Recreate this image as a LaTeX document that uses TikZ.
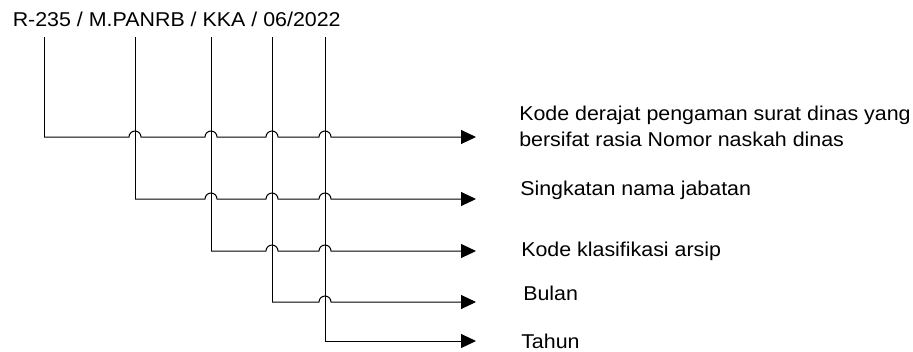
\documentclass[tikz,border=0pt]{standalone}
\usepackage{fontspec}
\setmainfont{Liberation Sans}[FakeStretch=1.07]
\usepackage{tikz}
\usetikzlibrary{arrows.meta, positioning}

\tikzset{
  lbl/.style={anchor=base west, inner sep=0.75pt, font=\fontsize{15}{19.5}\selectfont},
  wire/.style={line width=0.75, color=black},
  tip/.style={wire, -{Triangle[length=11.25pt,width=10.5pt]}}
}

\begin{document}
\begin{tikzpicture}[x=0.75pt,y=0.75pt,yscale=-1,xscale=1]
\useasboundingbox (0,0) rectangle (913,351);

% Text Node
\node (nomor) [lbl] at (11.5,26.5) {R-235 / M.PANRB / KKA / 06/2022};

%Coordinates
\coordinate (t1) at (44,37);
\coordinate (t2) at (135,37);
\coordinate (t3) at (211,37);
\coordinate (t4) at (272,37);
\coordinate (t5) at (325,37);
\coordinate (c1) at (44,137);
\coordinate (c2) at (135,199);
\coordinate (c3) at (211,251);
\coordinate (c4) at (272,302);
\coordinate (c5) at (325,341);
\coordinate (e1) at (476,137);
\coordinate (e2) at (476,199);
\coordinate (e3) at (476,251);
\coordinate (e4) at (476,302);
\coordinate (e5) at (476,341);

%Straight Lines
\draw [wire] (t1) -- (c1);
\draw [wire] (t2) -- (c2);
\draw [wire] (t3) -- (c3);
\draw [wire] (t4) -- (c4);
\draw [wire] (t5) -- (c5);

%Hop Lines
\draw [tip] (c1) -- (129,137) arc [start angle=180, end angle=360, radius=6]
  -- (205,137) arc [start angle=180, end angle=360, radius=6]
  -- (266,137) arc [start angle=180, end angle=360, radius=6]
  -- (319,137) arc [start angle=180, end angle=360, radius=6] -- (e1);
\draw [tip] (c2) -- (205,199) arc [start angle=180, end angle=360, radius=6]
  -- (266,199) arc [start angle=180, end angle=360, radius=6]
  -- (319,199) arc [start angle=180, end angle=360, radius=6] -- (e2);
\draw [tip] (c3) -- (266,251) arc [start angle=180, end angle=360, radius=6]
  -- (319,251) arc [start angle=180, end angle=360, radius=6] -- (e3);
\draw [tip] (c4) -- (319,302) arc [start angle=180, end angle=360, radius=6] -- (e4);
\draw [tip] (c5) -- (e5);

% Text Node
\node (derajat) [lbl, align=left] at (518,146.7) {Kode derajat pengaman surat dinas yang\\bersifat rasia Nomor naskah dinas};
% Text Node
\node (jabatan) [lbl] at (519,195) {Singkatan nama jabatan};
% Text Node
\node (arsip) [lbl] at (520,256.7) {Kode klasifikasi arsip};
% Text Node
\node (bulan) [lbl] at (522,300.7) {Bulan};
% Text Node
\node (tahun) [lbl] at (520,348.5) {Tahun};

\end{tikzpicture}
\end{document}
